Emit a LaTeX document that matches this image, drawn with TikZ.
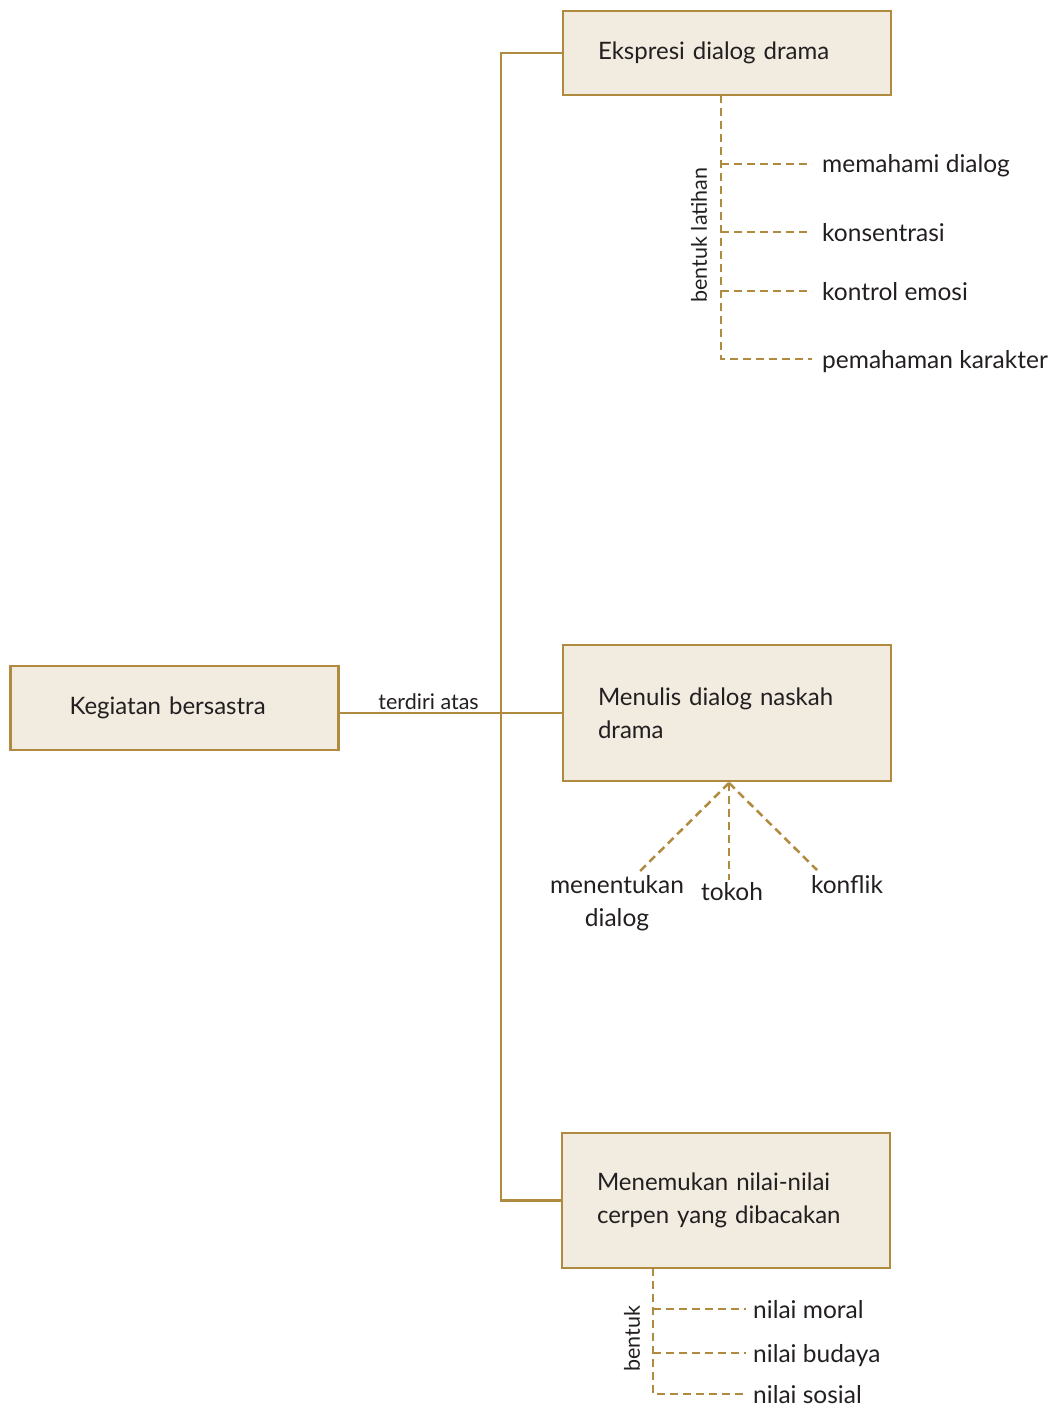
\documentclass[tikz,border=0pt]{standalone}
\usepackage{fontspec}
\setmainfont{Lato}
\usetikzlibrary{positioning}
\definecolor{bookgold}{HTML}{B08A3E}
\definecolor{bookcream}{HTML}{F1EBE0}
\definecolor{booktext}{HTML}{231F20}

\begin{document}
\begin{tikzpicture}[x=1pt,y=-1pt,
    every node/.style={text=booktext},
    topic/.style={draw=bookgold,fill=bookcream,line width=2.6pt,
      minimum width=328pt,inner ysep=0pt,inner xsep=35pt,
      text width=258pt,align=left,font=\fontsize{24}{33}\selectfont},
    root/.style={draw=bookgold,fill=bookcream,line width=2.6pt,
      minimum width=328pt,minimum height=84pt,inner xsep=59pt,
      text width=210pt,align=left,font=\fontsize{24}{33}\selectfont},
    item/.style={inner xsep=10pt,inner ysep=0pt,text height=20pt,
      text depth=2pt,font=\fontsize{24.5}{33}\selectfont},
    tag/.style={font=\fontsize{21.5}{26}\selectfont,inner sep=2pt},
    link/.style={draw=bookgold,line width=2.6pt},
    branch/.style={draw=bookgold,line width=2.5pt,
      dash pattern=on 8pt off 5pt}]

    \useasboundingbox (0,0) rectangle (1051,1407);

    % main boxes
    \node[root] (kegiatan) at (174.5,708) {Kegiatan bersastra};
    \node[topic,minimum height=84pt] (ekspresi) at (727,53)
      {Ekspresi dialog drama};
    \node[topic,minimum height=136pt] (menulis) at (727,713)
      {Menulis dialog naskah\\drama};
    \node[topic,minimum height=135pt] (menemukan) at (726,1200.5)
      {Menemukan nilai-nilai\\cerpen yang dibacakan};

    % trunk
    \coordinate (trunk) at (501,712);
    \draw[link] (ekspresi.west) -| (trunk) |- (menemukan.west);
    \draw[link] (kegiatan.east |- menulis.west)
      -- node[tag,above,pos=0.4] {terdiri atas} (menulis.west);

    % bentuk latihan
    \coordinate (spineA) at (721,95);
    \node[item,anchor=west] (memahami) at (812,164) {memahami dialog};
    \node[item,anchor=west] (konsentrasi) at (812,232) {konsentrasi};
    \node[item,anchor=west] (kontrol) at (812,291) {kontrol emosi};
    \node[item,anchor=west] (pemahaman) at (812,359) {pemahaman karakter};
    \draw[branch] (spineA) |- (pemahaman.west);
    \draw[branch] (spineA |- memahami.west) -- (memahami.west);
    \draw[branch] (spineA |- konsentrasi.west) -- (konsentrasi.west);
    \draw[branch] (spineA |- kontrol.west) -- (kontrol.west);
    \node[tag,rotate=90] (latihan) at (699,235) {bentuk latihan};

    % unsur naskah
    \coordinate (apex) at (729,783);
    \coordinate (tipdialog) at (638,873);
    \coordinate (tiptokoh) at (729,880);
    \coordinate (tipkonflik) at (817,870);
    \node[item,align=center,text height=,text depth=,inner sep=0pt]
      (menentukan) at (617,903) {menentukan\\dialog};
    \node[item,anchor=base,text height=,text depth=] (tokoh) at (732,900)
      {tokoh};
    \node[item,anchor=base,text height=,text depth=] (konflik) at (847,893)
      {konflik};
    \draw[branch] (apex) -- (tipdialog);
    \draw[branch] (apex) -- (tiptokoh);
    \draw[branch] (apex) -- (tipkonflik);

    % bentuk nilai
    \coordinate (spineB) at (653,1268);
    \node[item,anchor=west,inner xsep=7pt] (moral) at (746,1309) {nilai moral};
    \node[item,anchor=west,inner xsep=7pt] (budaya) at (746,1353) {nilai budaya};
    \node[item,anchor=west,inner xsep=7pt] (sosial) at (746,1394) {nilai sosial};
    \draw[branch] (spineB) |- (sosial.west);
    \draw[branch] (spineB |- moral.west) -- (moral.west);
    \draw[branch] (spineB |- budaya.west) -- (budaya.west);
    \node[tag,rotate=90] (bentuk) at (632,1339) {bentuk};
\end{tikzpicture}
\end{document}
